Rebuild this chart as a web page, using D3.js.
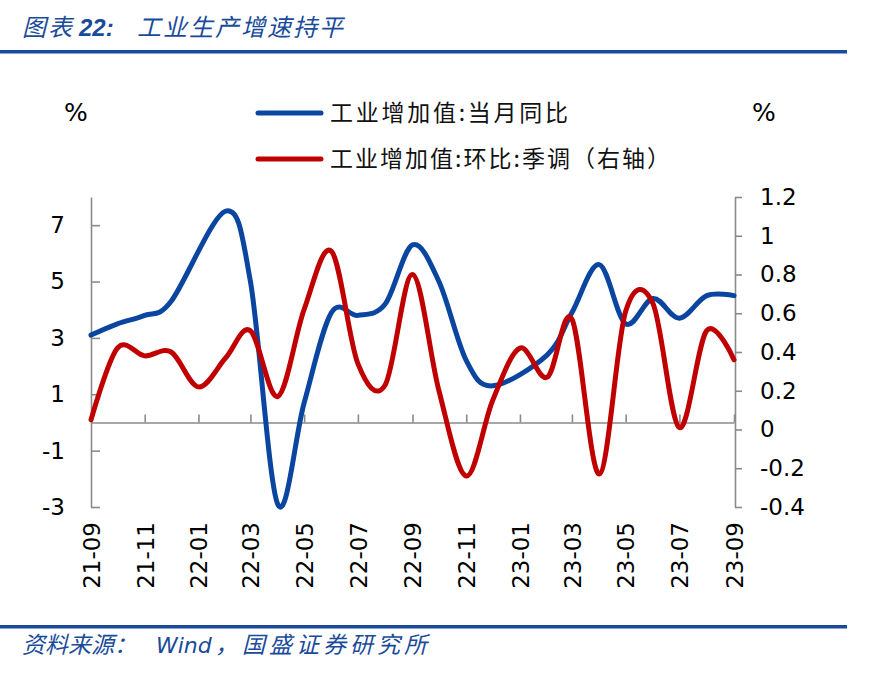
<!DOCTYPE html>
<html>
<head>
<meta charset="utf-8">
<script src="https://cdn.jsdelivr.net/npm/d3@7"></script>
<style>
  body { margin: 0; background: #fff; }
  svg { display: block; }
</style>
</head>
<body>
<svg id="chart" width="877" height="682"></svg>
<script>
// months on the x axis (yy-mm)
var months = ["21-09","21-10","21-11","21-12","22-01","22-02","22-03","22-04","22-05","22-06","22-07","22-08","22-09",
              "22-10","22-11","22-12","23-01","23-02","23-03","23-04","23-05","23-06","23-07","23-08","23-09"];
// 工业增加值:当月同比 (left axis), Jan values not published
var yoy = [3.1,3.5,3.8,4.3,null,7.5,5.0,-2.9,0.7,3.9,3.8,4.2,6.3,5.0,2.2,1.3,null,2.4,3.9,5.6,3.5,4.4,3.7,4.5,4.5];
// 工业增加值:环比:季调 (right axis)
var mom = [0.05,0.42,0.38,0.40,0.22,0.37,0.51,0.17,0.62,0.92,0.34,0.23,0.80,0.20,-0.24,0.15,0.42,0.27,0.57,-0.23,0.61,0.65,0.01,0.51,0.36];

var xTickLabels = ["21-09","21-11","22-01","22-03","22-05","22-07","22-09","22-11","23-01","23-03","23-05","23-07","23-09"];
var leftTicks = [-3,-1,1,3,5,7];
var rightTicks = [-0.4,-0.2,0,0.2,0.4,0.6,0.8,1,1.2];

var blue = "#0a46a0", red = "#c00000", axisGray = "#8a8a8a", brand = "#1a4b9b";
var cjk = "'Noto Sans CJK SC', sans-serif";
var num = "'DejaVu Sans', sans-serif";

var parse = d3.timeParse("%y-%m");
var svg = d3.select("#chart");

var x = d3.scaleTime()
  .domain([parse(months[0]), parse(months[months.length - 1])])
  .range([91, 734]);
var yL = d3.scaleLinear().domain([-3, 8]).range([507, 197]);
var yR = d3.scaleLinear().domain([-0.4, 1.2]).range([507, 197]);

// title + rule
svg.append("text").attr("x", 22).attr("y", 36).attr("textLength", 50)
  .style("font", "italic 24px " + cjk).attr("fill", brand).text("图表");
svg.append("text").attr("x", 79).attr("y", 36)
  .style("font", "italic bold 24px 'Liberation Sans', sans-serif").attr("fill", brand).text("22:");
svg.append("text").attr("x", 137).attr("y", 36).attr("textLength", 206)
  .style("font", "italic 24px " + cjk).attr("fill", brand).text("工业生产增速持平");
svg.append("rect").attr("x", 0).attr("y", 50).attr("width", 847).attr("height", 3.5).attr("fill", brand);

// footer
svg.append("rect").attr("x", 0).attr("y", 625).attr("width", 847).attr("height", 3.5).attr("fill", brand);
svg.append("text").attr("x", 22).attr("y", 653)
  .style("font", "italic 23px " + cjk).attr("fill", brand).text("资料来源：");
svg.append("text").attr("x", 156).attr("y", 653)
  .style("font", "italic 22px " + num).attr("fill", brand).text("Wind");
svg.append("text").attr("x", 215).attr("y", 653).attr("textLength", 212)
  .style("font", "italic 23px " + cjk).attr("fill", brand).text("，国盛证券研究所");

// unit labels
svg.append("text").attr("x", 64).attr("y", 121).style("font", "25px " + num).text("%");
svg.append("text").attr("x", 752).attr("y", 121).style("font", "25px " + num).text("%");

// legend
var legend = [
  {name: "工业增加值:当月同比", color: blue, y: 113, w: 238},
  {name: "工业增加值:环比:季调（右轴）", color: red, y: 159, w: 340}
];
var lg = svg.selectAll("g.legend").data(legend).enter().append("g").attr("class", "legend");
lg.append("line").attr("x1", 258).attr("x2", 321).attr("y1", d => d.y).attr("y2", d => d.y)
  .attr("stroke", d => d.color).attr("stroke-width", 5).attr("stroke-linecap", "round");
lg.append("text").attr("x", 330).attr("y", d => d.y + 8).attr("textLength", d => d.w)
  .style("font", "23px " + cjk).attr("fill", "#111").text(d => d.name);

function styleAxis(g) {
  g.select(".domain").attr("stroke", axisGray).attr("stroke-width", 1.6);
  g.selectAll(".tick line").attr("stroke", axisGray).attr("stroke-width", 1.6);
  g.selectAll(".tick text").style("font", "23px " + num).attr("fill", "#000");
}

// left axis
svg.append("g").attr("transform", "translate(91,0)")
  .call(d3.axisLeft(yL).tickValues(leftTicks).tickSizeInner(-9).tickSizeOuter(0)
    .tickPadding(26).tickFormat(d => String(d)))
  .call(styleAxis);

// right axis
svg.append("g").attr("transform", "translate(735,0)")
  .call(d3.axisRight(yR).tickValues(rightTicks).tickSizeInner(7).tickSizeOuter(0)
    .tickPadding(18).tickFormat(d => String(+d.toFixed(1))))
  .call(styleAxis);

// zero line with month ticks
var xTickDates = xTickLabels.map(parse);
svg.append("g").attr("transform", "translate(0," + yL(0) + ")")
  .call(d3.axisTop(x).tickValues(xTickDates).tickSizeInner(8).tickSizeOuter(0).tickFormat(""))
  .call(styleAxis);

// month labels below the plot
var xl = svg.append("g").attr("transform", "translate(0,522)")
  .call(d3.axisBottom(x).tickValues(xTickDates).tickSize(0).tickFormat((d, i) => xTickLabels[i]));
xl.select(".domain").remove();
xl.selectAll(".tick text")
  .style("font", "23px " + num).attr("fill", "#000")
  .attr("text-anchor", "end")
  .attr("transform", "rotate(-90)")
  .attr("x", 0).attr("y", 0).attr("dy", "0.36em");

// lines
var yoyPts = months.map((m, i) => ({d: parse(m), v: yoy[i]})).filter(p => p.v != null);
var momPts = months.map((m, i) => ({d: parse(m), v: mom[i]}));

var curve = d3.curveCardinal.tension(0);
svg.append("path").datum(yoyPts)
  .attr("fill", "none").attr("stroke", blue).attr("stroke-width", 5)
  .attr("stroke-linejoin", "round").attr("stroke-linecap", "round")
  .attr("d", d3.line().x(p => x(p.d)).y(p => yL(p.v)).curve(curve));
svg.append("path").datum(momPts)
  .attr("fill", "none").attr("stroke", red).attr("stroke-width", 5)
  .attr("stroke-linejoin", "round").attr("stroke-linecap", "round")
  .attr("d", d3.line().x(p => x(p.d)).y(p => yR(p.v)).curve(curve));
</script>
</body>
</html>
